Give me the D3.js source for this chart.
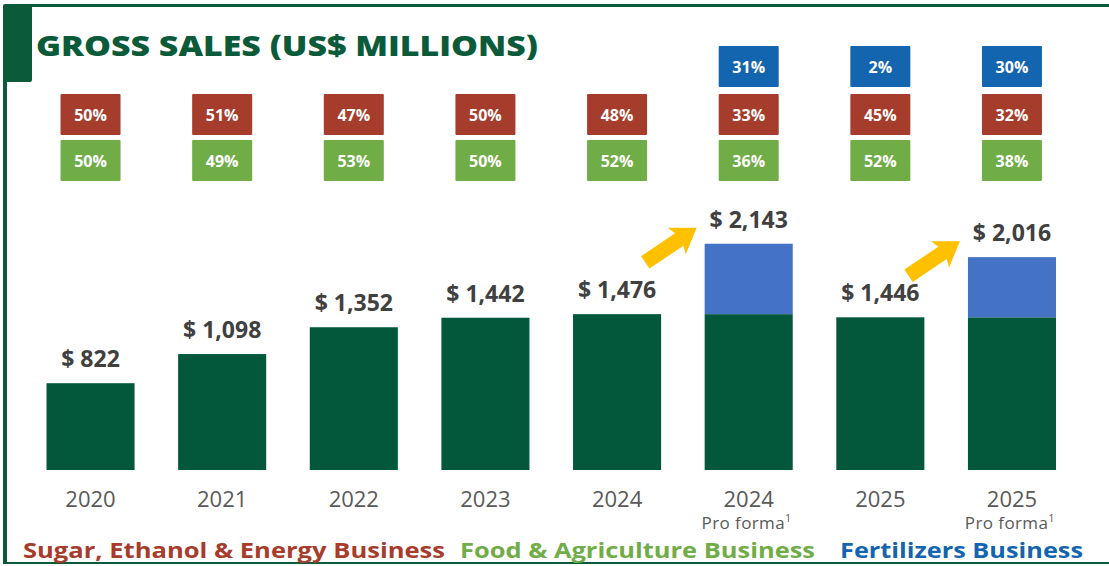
<!DOCTYPE html>
<html>
<head>
<meta charset="utf-8">
<script src="https://cdn.jsdelivr.net/npm/d3@7"></script>
<style>
  body { margin: 0; background: #fff; }
  svg text { font-family: "Open Sans", "Noto Sans", sans-serif; }
</style>
</head>
<body>
<div id="chart"></div>
<script>
// Chart data
const years = ["2020", "2021", "2022", "2023", "2024", "2024", "2025", "2025"];
const subLabels = ["", "", "", "", "", "Pro forma", "", "Pro forma"];
const totalSales = [822, 1098, 1352, 1442, 1476, 2143, 1446, 2016];
const coreSales = [822, 1098, 1352, 1442, 1476, 1476, 1446, 1446];
const sugarShare = [50, 51, 47, 50, 48, 33, 45, 32];
const foodShare = [50, 49, 53, 50, 52, 36, 52, 38];
const fertShare = [null, null, null, null, null, 31, 2, 30];
const legendNames = ["Sugar, Ethanol & Energy Business", "Food & Agriculture Business", "Fertilizers Business"];

const colors = {
    core: "#03573B",
    fert: "#4472C4",
    sugar: "#A63C2C",
    food: "#70AD47",
    fertBox: "#1265AE",
    arrow: "#FFC000",
    frame: "#0B5A3A"
};

const width = 1109, height = 566;

const svg = d3.select("#chart")
    .append("svg")
    .attr("width", width)
    .attr("height", height);

// Frame: top line, left tab and left / bottom lines
svg.append("rect").attr("x", 30).attr("y", 4).attr("width", width - 30).attr("height", 3).attr("fill", colors.frame);
svg.append("rect").attr("x", 3).attr("y", 4).attr("width", 29).attr("height", 78).attr("rx", 2).attr("fill", colors.frame);
svg.append("rect").attr("x", 3).attr("y", 70).attr("width", 4).attr("height", 494).attr("fill", colors.frame);
svg.append("rect").attr("x", 3).attr("y", 562).attr("width", width - 3).attr("height", 2).attr("fill", colors.frame);

svg.append("text")
    .attr("x", 36)
    .attr("y", 56)
    .attr("font-size", "29px")
    .attr("font-weight", 800)
    .attr("fill", colors.frame)
    .attr("textLength", 502)
    .attr("lengthAdjust", "spacingAndGlyphs")
    .text("GROSS SALES (US$ MILLIONS)");

// Scales
const idx = d3.range(years.length);
const xScale = d3.scaleBand()
    .domain(idx)
    .range([46.5, 1056])
    .paddingInner(0.331)
    .paddingOuter(0);

const yScale = d3.scaleLinear()
    .domain([0, 2200])
    .range([470, 237.7]);

const bw = xScale.bandwidth();
const cx = i => xScale(i) + bw / 2;

// Bars: core business
svg.append("g").selectAll("rect")
    .data(idx)
    .enter()
    .append("rect")
    .attr("x", i => xScale(i))
    .attr("y", i => yScale(coreSales[i]))
    .attr("width", bw)
    .attr("height", i => yScale(0) - yScale(coreSales[i]))
    .attr("fill", colors.core);

// Bars: fertilizers add-on (pro forma)
svg.append("g").selectAll("rect")
    .data(idx.filter(i => totalSales[i] > coreSales[i]))
    .enter()
    .append("rect")
    .attr("x", i => xScale(i))
    .attr("y", i => yScale(totalSales[i]))
    .attr("width", bw)
    .attr("height", i => yScale(coreSales[i]) - yScale(totalSales[i]))
    .attr("fill", colors.fert);

// Value labels
svg.append("g").selectAll("text")
    .data(idx)
    .enter()
    .append("text")
    .attr("x", cx)
    .attr("y", i => yScale(totalSales[i]) - 16)
    .attr("text-anchor", "middle")
    .attr("font-size", "23px")
    .attr("font-weight", 700)
    .attr("fill", "#404040")
    .text(i => "$ " + d3.format(",")(totalSales[i]));

// Arrows pointing at pro forma labels
const arrowPath = "M0,0 L-24,-16 L-21,-7.5 L-62,-7.5 L-62,7.5 L-21,7.5 L-24,16 Z";
svg.append("g").selectAll("path")
    .data(idx.filter(i => subLabels[i] !== ""))
    .enter()
    .append("path")
    .attr("d", arrowPath)
    .attr("transform", i => `translate(${xScale(i) - 8}, ${yScale(totalSales[i]) - 16}) rotate(-34)`)
    .attr("fill", colors.arrow);

// Share boxes
const boxW = 60, boxH = 41;
const rows = [
    { values: fertShare, color: colors.fertBox, top: 46 },
    { values: sugarShare, color: colors.sugar, top: 94 },
    { values: foodShare, color: colors.food, top: 140 }
];
rows.forEach(function(row) {
    const cells = svg.append("g").selectAll("g")
        .data(idx.filter(i => row.values[i] != null))
        .enter()
        .append("g")
        .attr("transform", i => `translate(${cx(i) - boxW / 2}, ${row.top})`);
    cells.append("rect")
        .attr("width", boxW)
        .attr("height", boxH)
        .attr("rx", 1)
        .attr("fill", row.color);
    cells.append("text")
        .attr("x", boxW / 2)
        .attr("y", boxH / 2 + 6)
        .attr("text-anchor", "middle")
        .attr("font-size", "16px")
        .attr("font-weight", 700)
        .attr("fill", "#fff")
        .text(i => row.values[i] + "%");
});

// Category labels
svg.append("g").selectAll("text")
    .data(idx)
    .enter()
    .append("text")
    .attr("x", cx)
    .attr("y", 507)
    .attr("text-anchor", "middle")
    .attr("font-size", "22px")
    .attr("fill", "#595959")
    .text(i => years[i]);

const sub = svg.append("g").selectAll("text")
    .data(idx.filter(i => subLabels[i] !== ""))
    .enter()
    .append("text")
    .attr("x", i => cx(i) - 2)
    .attr("y", 529)
    .attr("text-anchor", "middle")
    .attr("font-size", "17px")
    .attr("letter-spacing", "0.4px")
    .attr("fill", "#595959");
sub.append("tspan").text(i => subLabels[i]);
sub.append("tspan").attr("font-size", "11px").attr("dy", -7).text("1");

// Legend, stretched to the widths of the original
const legendColors = [colors.sugar, colors.food, colors.fertBox];
const legendWidths = [422, 355, 243];
let lx = 23;
legendNames.forEach(function(name, i) {
    svg.append("text")
        .attr("x", lx)
        .attr("y", 558)
        .attr("font-size", "22px")
        .attr("font-weight", 700)
        .attr("fill", legendColors[i])
        .attr("textLength", legendWidths[i])
        .attr("lengthAdjust", "spacingAndGlyphs")
        .text(name);
    lx += legendWidths[i] + (i === 0 ? 15 : 25);
});
</script>
</body>
</html>
